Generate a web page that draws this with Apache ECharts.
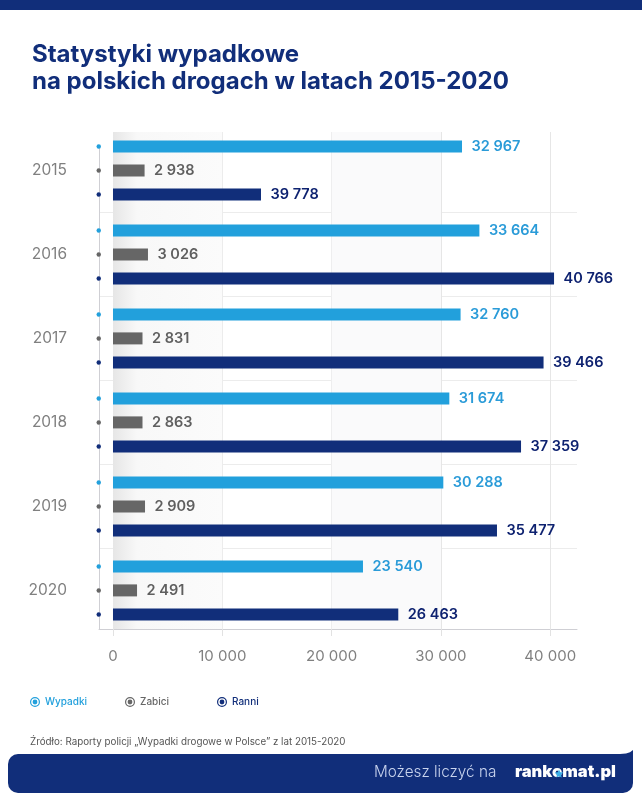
<!DOCTYPE html>
<html>
<head>
<meta charset="utf-8">
<style>html,body{margin:0;padding:0;background:#fff}#chart{width:642px;height:800px}</style>
<script src="https://cdn.jsdelivr.net/npm/echarts@6/dist/echarts.min.js"></script>
</head>
<body>
<div id="chart"></div>
<script>
var years = ['2015', '2016', '2017', '2018', '2019', '2020'];
// numbers as printed next to the bars
var wypadki = [32967, 33664, 32760, 31674, 30288, 23540];
var zabici = [2938, 3026, 2831, 2863, 2909, 2491];
var ranni = [39778, 40766, 39466, 37359, 35477, 26463];
// bar lengths as drawn in the picture, they do not follow the printed numbers exactly
// (2015 Ranni is printed as 39 778 but drawn at about 13 500)
var wypadkiDrawn = [31930, 33520, 31800, 30770, 30220, 22870];
var zabiciDrawn = [2890, 3200, 2700, 2700, 2930, 2200];
var ranniDrawn = [13540, 40350, 39390, 37330, 35130, 26100];
var xTicks = [0, 10000, 20000, 30000, 40000];

var NAVY = '#112e7a', BLUE = '#22a0dc', GRAY = '#666666';
var FONT = 'Inter';
var X_MIN = -1280, X_MAX = 42450;

function fmt(v) {
  return String(v).replace(/\B(?=(\d{3})+$)/g, ' ');
}

function barSeries(name, drawn, printed, color, labelColor) {
  return {
    name: name,
    type: 'bar',
    xAxisIndex: 0,
    yAxisIndex: 0,
    data: drawn,
    barWidth: 12,
    barGap: '100%',
    itemStyle: { color: color },
    z: 3,
    label: {
      show: true,
      position: 'right',
      distance: 9.5,
      color: labelColor,
      fontFamily: FONT,
      fontWeight: 600,
      fontSize: 14.5,
      formatter: function (p) { return fmt(printed[p.dataIndex]); }
    }
  };
}

// small dot on the axis line, one per bar
function dotSeries(name, color) {
  return {
    name: name,
    type: 'pictorialBar',
    xAxisIndex: 0,
    yAxisIndex: 0,
    data: years.map(function () { return X_MIN; }),
    symbol: 'circle',
    symbolSize: 4.5,
    symbolPosition: 'end',
    symbolOffset: [-2.5, 0],
    barWidth: 12,
    barGap: '100%',
    itemStyle: { color: color },
    z: 4
  };
}

function legendItem(left, name, color) {
  return {
    left: left,
    top: 692,
    data: [{ name: name, textStyle: { color: color } }],
    itemWidth: 10,
    itemHeight: 10,
    itemGap: 4,
    icon: 'path://M50 0a50 50 0 1 0 0.01 0zM50 12a38 38 0 1 1 -0.01 0zM50 26a24 24 0 1 0 0.01 0z',
    textStyle: { fontFamily: FONT, fontSize: 10, fontWeight: 500 }
  };
}

var chart = echarts.init(document.getElementById('chart'));
chart.setOption({
  backgroundColor: '#fff',
  animation: false,
  title: {
    text: 'Statystyki wypadkowe\nna polskich drogach w latach 2015-2020',
    left: 27,
    top: 36,
    textStyle: { fontFamily: FONT, fontWeight: 700, fontSize: 24, lineHeight: 27, color: NAVY }
  },
  legend: [
    legendItem(25, 'Wypadki', BLUE),
    legendItem(120, 'Zabici', GRAY),
    legendItem(212, 'Ranni', NAVY)
  ],
  grid: [
    { left: 99, right: 65, top: 128.4, height: 504 },
    { left: 99, right: 65, top: 132, height: 497 },
    { left: 99, right: 65, top: 146, height: 483 }
  ],
  xAxis: [
    { gridIndex: 0, type: 'value', min: X_MIN, max: X_MAX, show: false },
    {
      gridIndex: 1,
      type: 'value',
      min: X_MIN,
      max: X_MAX,
      axisLine: { show: true, lineStyle: { color: '#cfcfd4' } },
      axisTick: { show: true, length: 7, customValues: xTicks, lineStyle: { color: '#e2e2e2' } },
      axisLabel: {
        customValues: xTicks,
        margin: 20,
        color: '#808080',
        fontFamily: FONT,
        fontSize: 15,
        formatter: function (v) { return fmt(v); }
      },
      splitLine: { show: true, lineStyle: { color: '#e6e6e6' } }
    },
    { gridIndex: 2, type: 'value', min: X_MIN, max: X_MAX, show: false }
  ],
  yAxis: [
    {
      gridIndex: 0,
      type: 'category',
      data: years,
      inverse: true,
      axisLine: { show: false },
      axisTick: { show: false },
      axisLabel: { margin: 32, padding: [2, 0, 0, 0], color: '#808080', fontFamily: FONT, fontSize: 15.5 },
      splitLine: { show: true, showMinLine: false, showMaxLine: false, lineStyle: { color: '#ececec' } }
    },
    { gridIndex: 1, type: 'category', data: years, inverse: true, show: false },
    {
      gridIndex: 2,
      type: 'category',
      data: years,
      inverse: true,
      axisLine: { show: true, onZero: false, lineStyle: { color: '#cfcfd4' } },
      axisTick: { show: false },
      axisLabel: { show: false }
    }
  ],
  series: [
    {
      // empty, only carries the shaded bands behind the bars
      name: 'bands',
      type: 'bar',
      xAxisIndex: 1,
      yAxisIndex: 1,
      data: [],
      z: 1,
      markArea: {
        silent: true,
        data: [
          [
            {
              xAxis: 0,
              itemStyle: {
                color: {
                  type: 'linear', x: 0, y: 0, x2: 1, y2: 0,
                  colorStops: [
                    { offset: 0, color: '#e6e6e6' },
                    { offset: 0.22, color: '#f8f8f8' },
                    { offset: 1, color: '#fbfbfb' }
                  ]
                }
              }
            },
            { xAxis: 10000 }
          ],
          [
            { xAxis: 20000, itemStyle: { color: '#fafafb' } },
            { xAxis: 30000 }
          ]
        ]
      }
    },
    barSeries('Wypadki', wypadkiDrawn, wypadki, BLUE, '#2a9bd8'),
    barSeries('Zabici', zabiciDrawn, zabici, GRAY, '#5f5f5f'),
    barSeries('Ranni', ranniDrawn, ranni, NAVY, '#0e2270'),
    dotSeries('dotWypadki', BLUE),
    dotSeries('dotZabici', GRAY),
    dotSeries('dotRanni', NAVY)
  ],
  graphic: [
    { type: 'rect', silent: true, shape: { x: 0, y: 0, width: 642, height: 10 }, style: { fill: NAVY } },
    {
      type: 'text', left: 30, top: 737,
      style: { text: 'Źródło: Raporty policji „Wypadki drogowe w Polsce” z lat 2015-2020', fontFamily: FONT, fontSize: 9.8, fill: '#555' }
    },
    {
      type: 'rect', silent: true,
      shape: { x: 8, y: 754, width: 625, height: 39, r: [10, 0, 10, 10] },
      style: { fill: NAVY }
    },
    {
      // flared top right corner of the banner
      type: 'polygon', silent: true,
      shape: { points: [[620, 754], [626, 753.6], [630, 752.3], [633, 750], [633, 760], [620, 760]] },
      style: { fill: NAVY }
    },
    {
      type: 'text', left: 374, top: 765,
      style: { text: 'Możesz liczyć na', fontFamily: FONT, fontWeight: 300, fontSize: 15.3, fill: '#c9d4ee' }
    },
    {
      type: 'text', left: 515, top: 764,
      style: { text: 'rankomat.pl', fontFamily: FONT, fontWeight: 900, fontSize: 16.5, fill: '#fff' }
    },
    {
      type: 'polygon', silent: true, z: 10,
      shape: {
        points: [[559, 769.5], [560.3, 772.2], [563.3, 772.6], [561.1, 774.7], [561.6, 777.6],
          [559, 776.2], [556.4, 777.6], [556.9, 774.7], [554.7, 772.6], [557.7, 772.2]]
      },
      style: { fill: '#3db0e8' }
    }
  ]
});
</script>
</body>
</html>
